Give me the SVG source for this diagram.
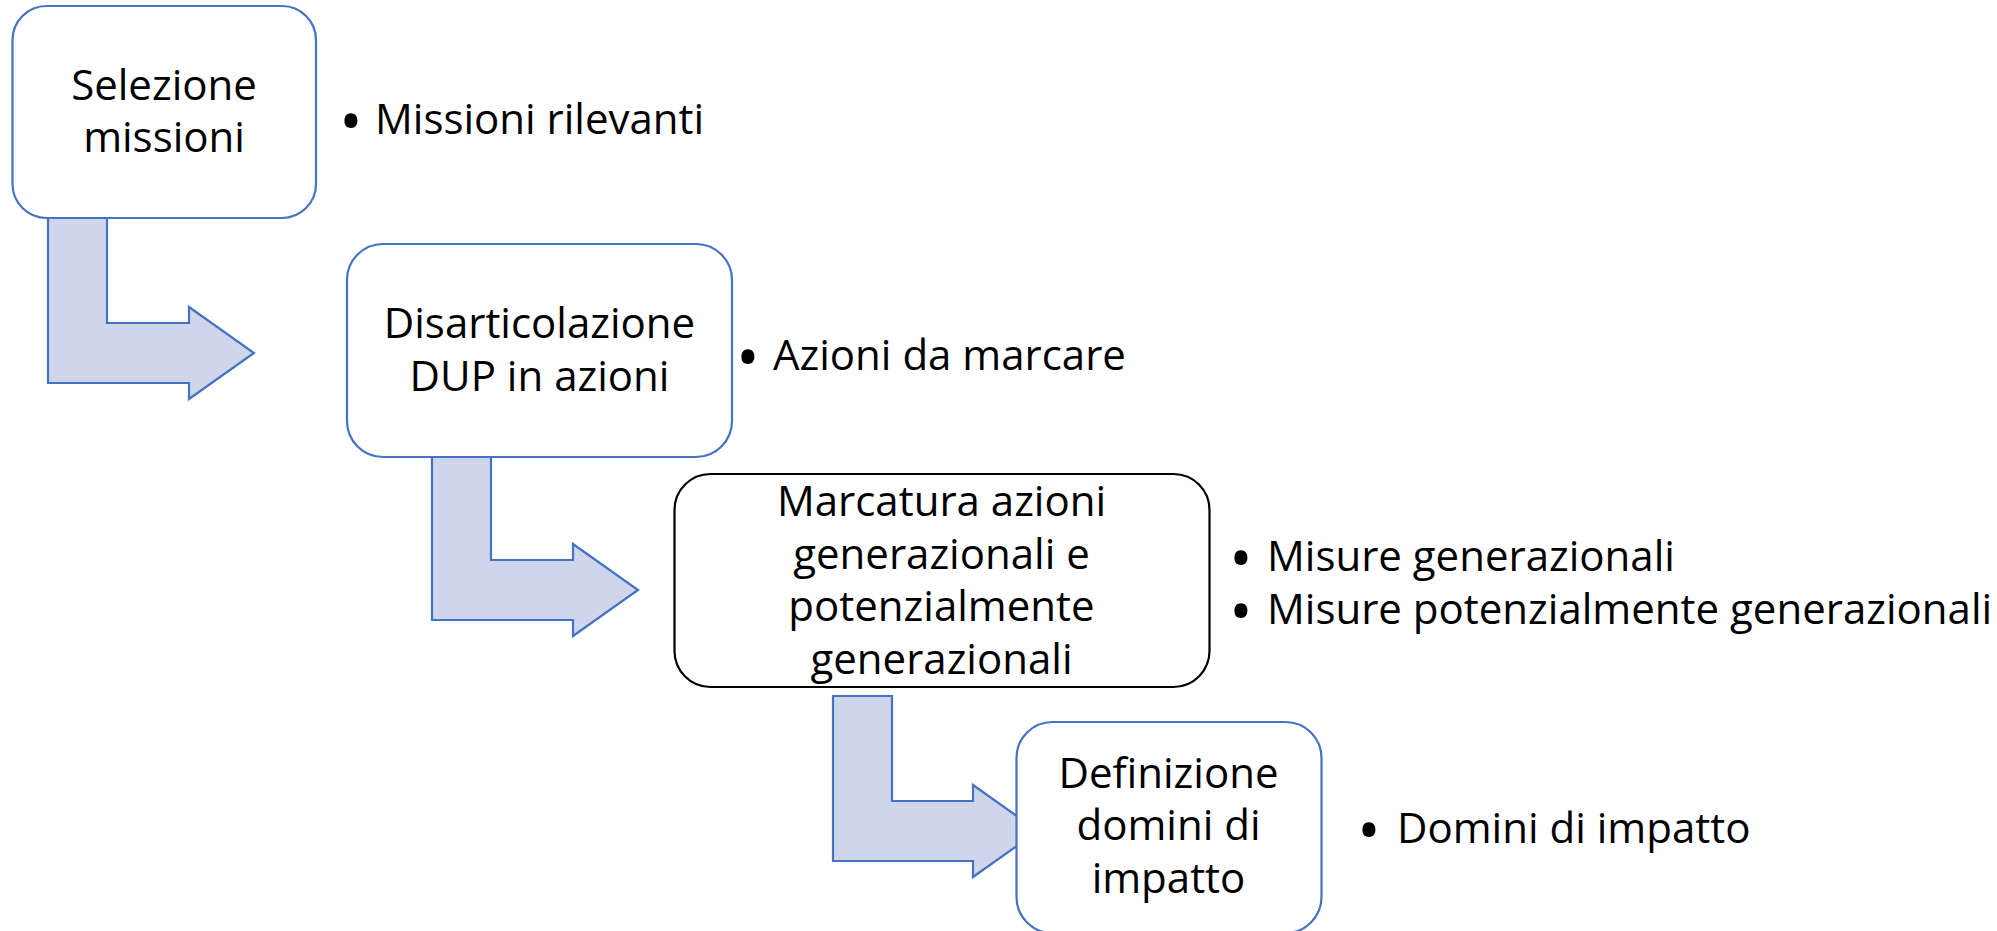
<svg xmlns="http://www.w3.org/2000/svg" width="1997" height="931" viewBox="0 0 1997 931">
<style>
.box{fill:#ffffff;stroke:#4472C4;stroke-width:2.2}
.boxk{fill:#ffffff;stroke:#000000;stroke-width:2.2}
.arr{fill:#CFD5EA;stroke:#4472C4;stroke-width:2.2;stroke-linejoin:miter}
.t{font-family:"Open Sans","Liberation Sans",sans-serif;font-size:42px;fill:#000000;text-anchor:middle}
.b{font-family:"Open Sans","Liberation Sans",sans-serif;font-size:42px;fill:#000000}
.dot{font-family:"Open Sans","Liberation Sans",sans-serif;font-size:62px;fill:#000000;text-anchor:middle}
</style>
<rect width="1997" height="931" fill="#ffffff"/>
<g id="connectors">
<path class="arr" d="M48,212 L107,212 L107,323 L189,323 L189,307 L254,353 L189,399 L189,383 L48,383 Z"/>
<path class="arr" d="M432,452 L491,452 L491,560 L573,560 L573,544 L638,590 L573,636 L573,620 L432,620 Z"/>
<path class="arr" d="M833,696 L892,696 L892,801 L973,801 L973,785 L1038,831 L973,877 L973,861 L833,861 Z"/>
</g>
<g id="node1">
<rect class="box" x="12.5" y="6" width="303.5" height="212" rx="34"/>
<text class="t" x="164" y="100">Selezione</text>
<text class="t" x="164" y="152">missioni</text>
</g>
<g id="bullet1">
<text class="dot" x="351" y="143">•</text>
<text class="b" x="375" y="134">Missioni rilevanti</text>
</g>
<g id="node2">
<rect class="box" x="347" y="244" width="385" height="213" rx="36"/>
<text class="t" x="539.5" y="338">Disarticolazione</text>
<text class="t" x="539.5" y="391">DUP in azioni</text>
</g>
<g id="bullet2">
<text class="dot" x="748" y="379">•</text>
<text class="b" x="773" y="370">Azioni da marcare</text>
</g>
<g id="node3">
<rect class="boxk" x="674.5" y="474" width="535" height="213" rx="36"/>
<text class="t" x="941.5" y="516">Marcatura azioni</text>
<text class="t" x="941.5" y="569">generazionali e</text>
<text class="t" x="941.5" y="621">potenzialmente</text>
<text class="t" x="941.5" y="674">generazionali</text>
</g>
<g id="bullet3">
<text class="dot" x="1241" y="580">•</text>
<text class="b" x="1267" y="571">Misure generazionali</text>
<text class="dot" x="1241" y="633">•</text>
<text class="b" x="1267" y="624">Misure potenzialmente generazionali</text>
</g>
<g id="node4">
<rect class="box" x="1016.5" y="722" width="305" height="211" rx="36"/>
<text class="t" x="1168.5" y="788">Definizione</text>
<text class="t" x="1168.5" y="840">domini di</text>
<text class="t" x="1168.5" y="893">impatto</text>
</g>
<g id="bullet4">
<text class="dot" x="1369" y="852">•</text>
<text class="b" x="1397" y="843">Domini di impatto</text>
</g>
</svg>
